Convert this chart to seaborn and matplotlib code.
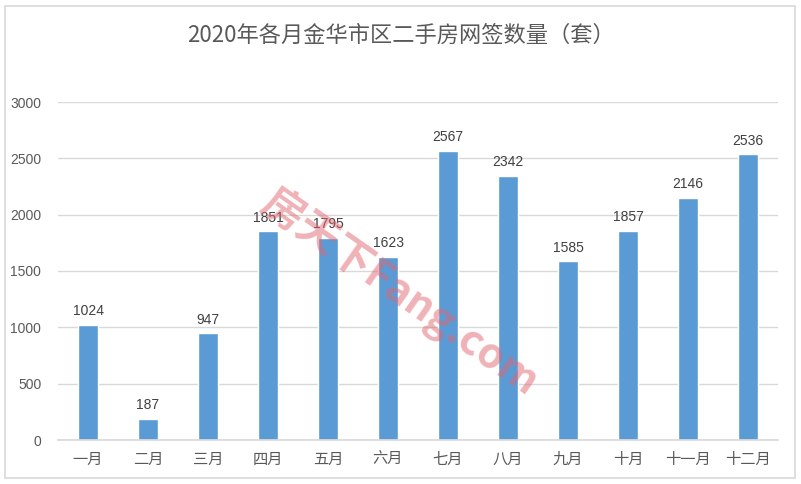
import matplotlib
matplotlib.use("Agg")
import matplotlib.pyplot as plt
import seaborn as sns
import pandas as pd
from matplotlib.patches import Rectangle

months = ["一月", "二月", "三月", "四月", "五月", "六月", "七月", "八月", "九月", "十月", "十一月", "十二月"]
counts = [1024, 187, 947, 1851, 1795, 1623, 2567, 2342, 1585, 1857, 2146, 2536]
yticks = [0, 500, 1000, 1500, 2000, 2500, 3000]
title = "2020年各月金华市区二手房网签数量（套）"

sns.set_theme(style="white")
plt.rcParams['font.family'] = ['Liberation Sans', 'Noto Sans CJK SC', 'DejaVu Sans']

df = pd.DataFrame({"month": months, "count": counts})

fig = plt.figure(figsize=(8.01, 4.84), dpi=100)
ax = fig.add_axes([58/801, 1-440/484, 720/801, (440-102)/484])
sns.barplot(data=df, x="month", y="count", color="#5B9BD5", saturation=1, width=0.32, ax=ax)

ax.set_ylim(0, 3000)
ax.set_xlim(-0.5, 11.5)
ax.set_yticks(yticks)
ax.set_yticklabels([str(v) for v in yticks])
ax.yaxis.grid(True, color="#D9D9D9", linewidth=1)
ax.set_axisbelow(True)
for s in ["top", "right", "left"]:
    ax.spines[s].set_visible(False)
ax.spines["bottom"].set_color("#D9D9D9")
ax.set_xlabel("")
ax.set_ylabel("")
ax.tick_params(axis="y", length=0, pad=12, labelsize=10, labelcolor="#595959")
ax.tick_params(axis="x", length=0, pad=8, labelsize=11, labelcolor="#595959")
for lab in ax.get_xticklabels():
    lab.set_family(['Noto Sans CJK SC', 'DejaVu Sans'])

for i, v in enumerate(counts):
    ax.text(i, v + 60, str(v), ha="center", va="bottom", fontsize=10, color="#404040")

fig.text(0.5, 1-35/484, title, ha="center", va="center", fontsize=16, color="#595959",
         family=['Noto Sans CJK SC', 'DejaVu Sans'])

fig.text(400/801, 1-292/484, "房天下Fang.com", ha="center", va="center", fontsize=30,
         color="#E06670", alpha=0.5, rotation=-35, fontweight="bold",
         family=['Noto Sans CJK SC', 'DejaVu Sans'])

fig.patches.append(Rectangle((5/801, 6/484), 790/801, 472/484, transform=fig.transFigure,
                             fill=False, edgecolor="#D9D9D9", linewidth=1.2))

fig.savefig("out.png", dpi=100)
